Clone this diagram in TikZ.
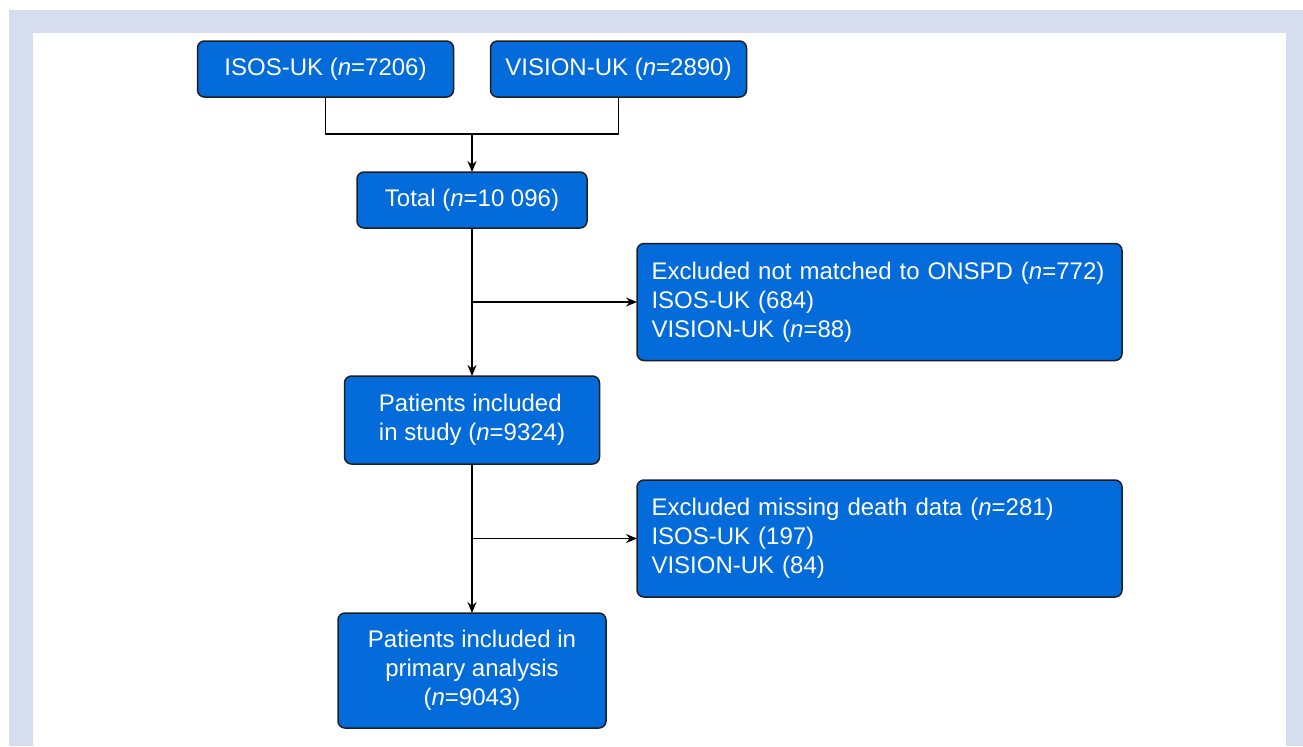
\documentclass[tikz,border=0pt]{standalone}
\usepackage{fontspec}
\setmainfont{Liberation Sans}
\usepackage{tikz}
\usetikzlibrary{positioning,calc,arrows.meta}
\definecolor{boxblue}{RGB}{4,108,218}
\definecolor{boxline}{RGB}{30,30,35}
\definecolor{framebg}{RGB}{213,221,238}

\begin{document}
\begin{tikzpicture}[
x=0.5pt, y=-0.5pt,
flowbox/.style={rectangle, rounded corners=3.5pt, draw=boxline, line width=0.75pt, fill=boxblue,
  text=white, font=\fontsize{12}{14.5}\selectfont, inner sep=0pt, outer sep=0pt},
exclbox/.style={flowbox, align=left, text width=228pt, inner xsep=7.25pt, minimum height=58.5pt},
link/.style={draw=black, line width=0.7pt},
>={Stealth[length=5.5pt,width=4.5pt]},
]
%Frame
\useasboundingbox (0,0) rectangle (1303,746);
\fill[framebg] (9,10) rectangle (1303,746);
\fill[white] (33,33) rectangle (1286,746);

%Nodes
\node[flowbox, minimum width=128pt, minimum height=28pt] (isos) at (325.5,69) {ISOS-UK (\textit{n}=7206)};
\node[flowbox, minimum width=128pt, minimum height=28pt] (vision) [right=18.5pt of isos] {VISION-UK (\textit{n}=2890)};
\coordinate (join) at ($(isos.south)!0.5!(vision.south)+(0,-18.5pt)$);
\node[flowbox, minimum width=115pt, minimum height=28pt] (total) [below=19pt of join] {Total (\textit{n}=10 096)};
\node[flowbox, align=left, minimum width=127.5pt, minimum height=44pt] (study) [below=74pt of total]
  {Patients included\\in study (\textit{n}=9324)};
\node[flowbox, align=center, minimum width=134pt, minimum height=57.5pt] (primary) [below=74.5pt of study]
  {Patients included in\\primary analysis\\(\textit{n}=9043)};
\coordinate (branchA) at ($(total.south)!0.5!(study.north)$);
\coordinate (branchB) at ($(study.south)!0.5!(primary.north)$);
\node[exclbox, anchor=west] (exclA) at ($(branchA)+(82.5pt,0)$)
  {Excluded not matched to ONSPD (\textit{n}=772)\\ISOS-UK (684)\\VISION-UK (\textit{n}=88)};
\node[exclbox, anchor=west] (exclB) at ($(branchB)+(82.5pt,0)$)
  {Excluded missing death data (\textit{n}=281)\\ISOS-UK (197)\\VISION-UK (84)};

%Lines
\draw[link] (isos.south) |- (join) -| (vision.south);
\draw[link,->] (join) -- (total.north);
\draw[link,->] (total.south) -- (study.north);
\draw[link,->] (branchA) -- (exclA.west);
\draw[link,->] (study.south) -- (primary.north);
\draw[link,->] (branchB) -- (exclB.west);
\end{tikzpicture}
\end{document}
